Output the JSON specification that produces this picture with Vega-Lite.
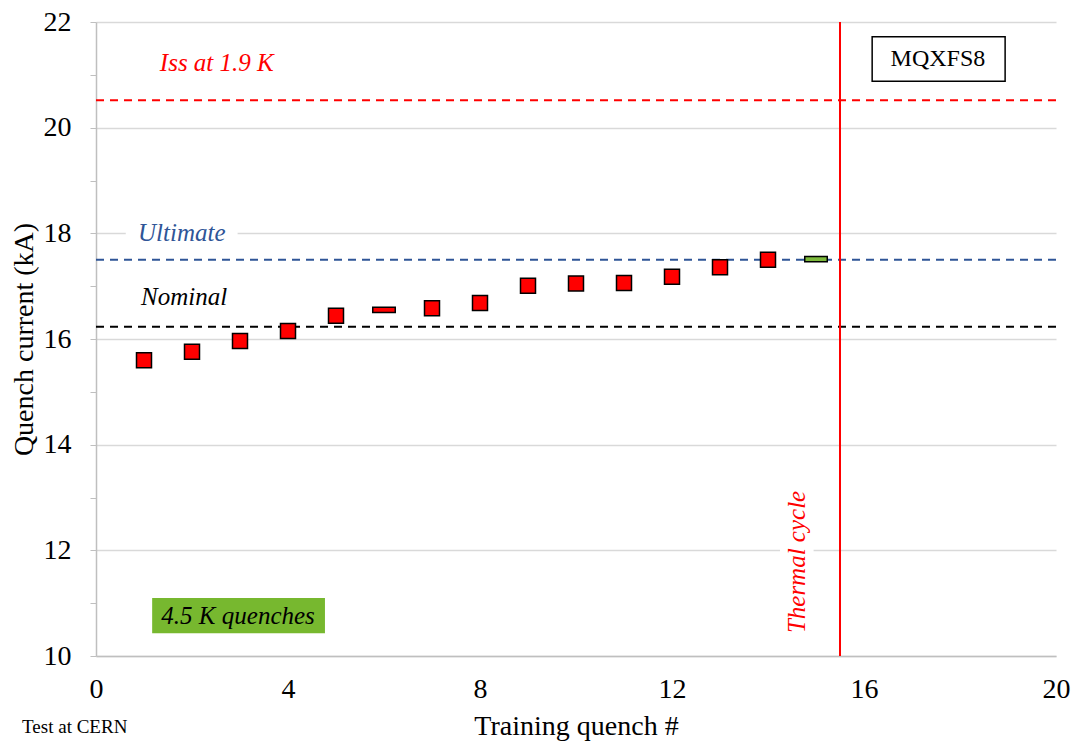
{
  "$schema": "https://vega.github.io/schema/vega-lite/v6.json",
  "width": 960,
  "height": 634,
  "autosize": {"type": "none"},
  "padding": {"left": 96, "top": 22, "right": 18, "bottom": 85},
  "background": "white",
  "config": {
    "view": {"stroke": null},
    "font": "Liberation Serif",
    "axis": {"labelFont": "Liberation Serif", "titleFont": "Liberation Serif", "labelColor": "black", "titleColor": "black", "titleFontWeight": "normal", "labelFontSize": 28, "titleFontSize": 28, "labelFlush": false}
  },
  "datasets": {
    "quenches": [
      {"quench": 1, "current": 15.6, "kind": "square"},
      {"quench": 2, "current": 15.76, "kind": "square"},
      {"quench": 3, "current": 15.96, "kind": "square"},
      {"quench": 4, "current": 16.15, "kind": "square"},
      {"quench": 5, "current": 16.44, "kind": "square"},
      {"quench": 6, "current": 16.55, "kind": "flat red"},
      {"quench": 7, "current": 16.58, "kind": "square"},
      {"quench": 8, "current": 16.68, "kind": "square"},
      {"quench": 9, "current": 17.01, "kind": "square"},
      {"quench": 10, "current": 17.05, "kind": "square"},
      {"quench": 11, "current": 17.06, "kind": "square"},
      {"quench": 12, "current": 17.18, "kind": "square"},
      {"quench": 13, "current": 17.36, "kind": "square"},
      {"quench": 14, "current": 17.5, "kind": "square"},
      {"quench": 15, "current": 17.51, "kind": "flat green"}
    ],
    "levels": [
      {"name": "Iss", "value": 20.52, "color": "red"},
      {"name": "Ultimate", "value": 17.5, "color": "blue"},
      {"name": "Nominal", "value": 16.23, "color": "black"}
    ]
  },
  "layer": [
    {
      "data": {"values": [
        {"x": 0.62, "x2": 2.95, "y": 17.85, "y2": 18.15},
        {"x": 14.25, "x2": 14.95, "y": 11.85, "y2": 12.15}
      ]},
      "mark": {"type": "rect", "fill": "white"},
      "encoding": {
        "x": {"field": "x", "type": "quantitative", "scale": {"domain": [0, 20]}},
        "x2": {"field": "x2"},
        "y": {"field": "y", "type": "quantitative", "scale": {"domain": [10, 22]}},
        "y2": {"field": "y2"}
      }
    },
    {
      "data": {"name": "levels"},
      "mark": {"type": "rule", "strokeWidth": 2, "strokeDash": [8, 6]},
      "encoding": {
        "y": {"field": "value", "type": "quantitative"},
        "color": {"field": "color", "type": "nominal", "legend": null, "scale": {"domain": ["red", "blue", "black"], "range": ["#FF0000", "#2F5597", "#000000"]}}
      }
    },
    {
      "data": {"values": [{"x": 15.5}]},
      "mark": {"type": "rule", "strokeWidth": 2, "color": "#FF0000"},
      "encoding": {"x": {"field": "x", "type": "quantitative"}}
    },
    {
      "data": {"values": [{"x": 1.17, "x2": 4.77, "y": 10.43, "y2": 11.1}]},
      "mark": {"type": "rect", "fill": "#77B82F"},
      "encoding": {
        "x": {"field": "x", "type": "quantitative"},
        "x2": {"field": "x2"},
        "y": {"field": "y", "type": "quantitative"},
        "y2": {"field": "y2"}
      }
    },
    {
      "data": {"values": [{"x": 16.17, "x2": 18.94, "y": 20.88, "y2": 21.72}]},
      "mark": {"type": "rect", "fill": "white", "stroke": "black", "strokeWidth": 1.5},
      "encoding": {
        "x": {"field": "x", "type": "quantitative"},
        "x2": {"field": "x2"},
        "y": {"field": "y", "type": "quantitative"},
        "y2": {"field": "y2"}
      }
    },
    {
      "data": {"name": "quenches"},
      "mark": {"type": "point", "filled": true, "size": 225, "stroke": "black", "strokeWidth": 1.5, "opacity": 1},
      "encoding": {
        "x": {"field": "quench", "type": "quantitative", "scale": {"domain": [0, 20]},
          "axis": {"values": [0, 4, 8, 12, 16, 20], "grid": false, "ticks": false, "domainColor": "#BFBFBF", "domainWidth": 1.5, "labelPadding": 19, "title": "Training quench #", "titlePadding": 9}},
        "y": {"field": "current", "type": "quantitative", "scale": {"domain": [10, 22]},
          "axis": {"values": [10, 11, 12, 13, 14, 15, 16, 17, 18, 19, 20, 21, 22], "labelExpr": "datum.value % 2 === 0 ? datum.label : ''",
            "grid": true, "gridColor": "#D9D9D9", "gridWidth": 1.5, "gridOpacity": {"condition": {"test": "datum.value % 2 === 0", "value": 1}, "value": 0},
            "domainColor": "#BFBFBF", "domainWidth": 1.5, "tickColor": "#BFBFBF", "tickSize": 6, "labelPadding": 19, "title": "Quench current (kA)", "titlePadding": 5}},
        "shape": {"field": "kind", "type": "nominal", "legend": null, "scale": {"domain": ["square", "flat red", "flat green"], "range": ["square", "M-1.5,-0.35L1.5,-0.35L1.5,0.35L-1.5,0.35Z", "M-1.5,-0.35L1.5,-0.35L1.5,0.35L-1.5,0.35Z"]}},
        "fill": {"field": "kind", "type": "nominal", "legend": null, "scale": {"domain": ["square", "flat red", "flat green"], "range": ["#FF0000", "#FF0000", "#7DBA3C"]}}
      }
    },
    {
      "data": {"values": [
        {"label": "Iss at 1.9 K", "x": 1.33, "y": 21.22, "c": "red"},
        {"label": "Ultimate", "x": 0.875, "y": 18.0, "c": "blue"},
        {"label": "Nominal", "x": 0.94, "y": 16.79, "c": "black"}
      ]},
      "mark": {"type": "text", "align": "left", "baseline": "middle", "fontStyle": "italic", "fontSize": 25, "font": "Liberation Serif"},
      "encoding": {
        "x": {"field": "x", "type": "quantitative"},
        "y": {"field": "y", "type": "quantitative"},
        "text": {"field": "label"},
        "color": {"field": "c", "type": "nominal", "legend": null, "scale": {"domain": ["red", "blue", "black"], "range": ["#FF0000", "#2F5597", "#000000"]}}
      }
    },
    {
      "data": {"values": [{"label": "Thermal cycle", "x": 14.6, "y": 11.78}]},
      "mark": {"type": "text", "align": "center", "baseline": "middle", "angle": 270, "fontStyle": "italic", "fontSize": 25, "font": "Liberation Serif", "color": "#FF0000"},
      "encoding": {
        "x": {"field": "x", "type": "quantitative"},
        "y": {"field": "y", "type": "quantitative"},
        "text": {"field": "label"}
      }
    },
    {
      "data": {"values": [{"label": "4.5 K quenches", "x": 2.96, "y": 10.76}]},
      "mark": {"type": "text", "align": "center", "baseline": "middle", "fontStyle": "italic", "fontSize": 25, "font": "Liberation Serif", "color": "black"},
      "encoding": {
        "x": {"field": "x", "type": "quantitative"},
        "y": {"field": "y", "type": "quantitative"},
        "text": {"field": "label"}
      }
    },
    {
      "data": {"values": [{"label": "MQXFS8", "x": 17.54, "y": 21.3}]},
      "mark": {"type": "text", "align": "center", "baseline": "middle", "fontSize": 24, "font": "Liberation Serif", "color": "black"},
      "encoding": {
        "x": {"field": "x", "type": "quantitative"},
        "y": {"field": "y", "type": "quantitative"},
        "text": {"field": "label"}
      }
    },
    {
      "data": {"values": [{"label": "Test at CERN", "x": -1.54, "y": 8.66}]},
      "mark": {"type": "text", "align": "left", "baseline": "middle", "fontSize": 19, "font": "Liberation Serif", "color": "black", "clip": false},
      "encoding": {
        "x": {"field": "x", "type": "quantitative"},
        "y": {"field": "y", "type": "quantitative"},
        "text": {"field": "label"}
      }
    }
  ]
}
